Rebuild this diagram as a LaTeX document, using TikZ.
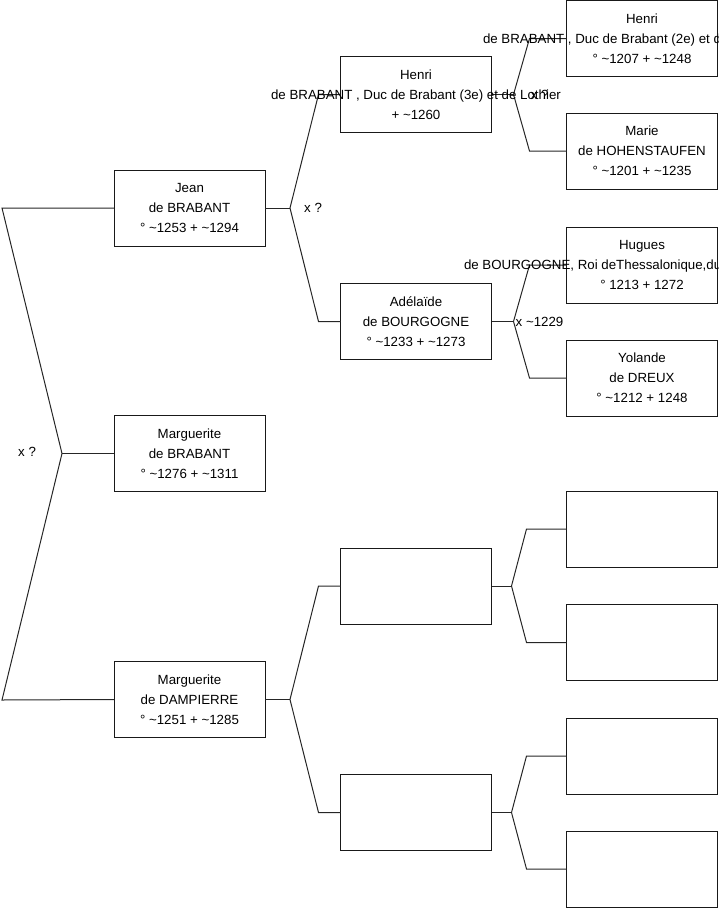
\documentclass[tikz,border=0pt]{standalone}
\usepackage{fontspec}
\setmainfont{Liberation Sans}
\usepackage{tikz}

\newcommand{\circa}{\textasciitilde}

\begin{document}
\begin{tikzpicture}[x=1pt, y=-1pt,
  pers/.style={draw=black!90, line width=1pt, minimum width=151pt, minimum height=76pt, inner sep=0pt, outer sep=0pt},
  txt/.style={align=center, inner sep=0pt, font=\fontsize{13.3}{20}\selectfont},
  link/.style={draw=black!85, line width=1pt}]
  \useasboundingbox (0,0) rectangle (719,908);
  \clip (0,0) rectangle (719,908);

  % generation 1
  \node[pers] (jean) at (189.5,208) {};
  \node[pers] (margB) at (189.5,453.5) {};
  \node[pers] (margD) at (189.5,699.5) {};

  % generation 2
  \node[pers] (henri3) at (416,94.5) {};
  \node[pers] (adel) at (416,321.5) {};
  \node[pers] (m3) at (416,586) {};
  \node[pers] (m4) at (416,812.5) {};

  % generation 3
  \node[pers] (henri2) at (642,38.5) {};
  \node[pers] (marie) at (642,151) {};
  \node[pers] (hugues) at (642,265) {};
  \node[pers] (yolande) at (642,378) {};
  \node[pers] (r5) at (642,529) {};
  \node[pers] (r6) at (642,642.5) {};
  \node[pers] (r7) at (642,756) {};
  \node[pers] (r8) at (642,869) {};

  % couple forks
  \coordinate (rootA) at (2,208);
  \coordinate (rootB) at (2,700);
  \coordinate (f0) at (62,453.5);
  \coordinate (fJ) at ([xshift=25]jean.east);
  \coordinate (fD) at ([xshift=25]margD.east);
  \coordinate (fH) at ([xshift=22]henri3.east);
  \coordinate (fA) at ([xshift=22]adel.east);
  \coordinate (f3) at ([xshift=20]m3.east);
  \coordinate (f4) at ([xshift=20]m4.east);

  \draw[link] (jean.west) -- (rootA) -- (f0) -- (rootB) -- (margD.west);
  \draw[link] (f0) -- (margB.west);

  \draw[link] (jean.east) -- (fJ);
  \draw[link] (henri3.west) -- ++(-22,0) -- (fJ) -- ([xshift=-22]adel.west) -- (adel.west);
  \draw[link] (margD.east) -- (fD);
  \draw[link] (m3.west) -- ++(-22,0) -- (fD) -- ([xshift=-22]m4.west) -- (m4.west);

  \draw[link] (henri3.east) -- (fH);
  \draw[link] (henri2.west) -- ++(-37,0) -- (fH) -- ([xshift=-37]marie.west) -- (marie.west);
  \draw[link] (adel.east) -- (fA);
  \draw[link] (hugues.west) -- ++(-37,0) -- (fA) -- ([xshift=-37]yolande.west) -- (yolande.west);
  \draw[link] (m3.east) -- (f3);
  \draw[link] (r5.west) -- ++(-40,0) -- (f3) -- ([xshift=-40]r6.west) -- (r6.west);
  \draw[link] (m4.east) -- (f4);
  \draw[link] (r7.west) -- ++(-40,0) -- (f4) -- ([xshift=-40]r8.west) -- (r8.west);

  % marriages
  \node[txt, anchor=west] (x0) at (18,452) {x ?};
  \node[txt, anchor=west] (xJ) at ([xshift=14]fJ) {x ?};
  \node[txt, anchor=west] (xH) at ([xshift=17]fH) {x ?};
  \node[txt, anchor=west] (xA) at ([xshift=2]fA) {x \circa1229};

  % names
  \node[txt] (jeanT) at (jean) {Jean\\de BRABANT\\° \circa1253 + \circa1294};
  \node[txt] (margBT) at (margB) {Marguerite\\de BRABANT\\° \circa1276 + \circa1311};
  \node[txt] (margDT) at (margD) {Marguerite\\de DAMPIERRE\\° \circa1251 + \circa1285};
  \node[txt] (henri3T) at (henri3) {Henri\\de BRABANT , Duc de Brabant (3e) et de Lothier\\+ \circa1260};
  \node[txt] (adelT) at (adel) {Adélaïde\\de BOURGOGNE\\° \circa1233 + \circa1273};
  \node[txt] (henri2T) at (henri2) {Henri\\\makebox[318pt][l]{de BRABANT , Duc de Brabant (2e) et d}\\° \circa1207 + \circa1248};
  \node[txt] (marieT) at (marie) {Marie\\de HOHENSTAUFEN\\° \circa1201 + \circa1235};
  \node[txt] (huguesT) at (hugues) {Hugues\\\makebox[356pt][l]{de BOURGOGNE, Roi deThessalonique,du}\\° 1213 + 1272};
  \node[txt] (yolandeT) at (yolande) {Yolande\\de DREUX\\° \circa1212 + 1248};
\end{tikzpicture}
\end{document}
